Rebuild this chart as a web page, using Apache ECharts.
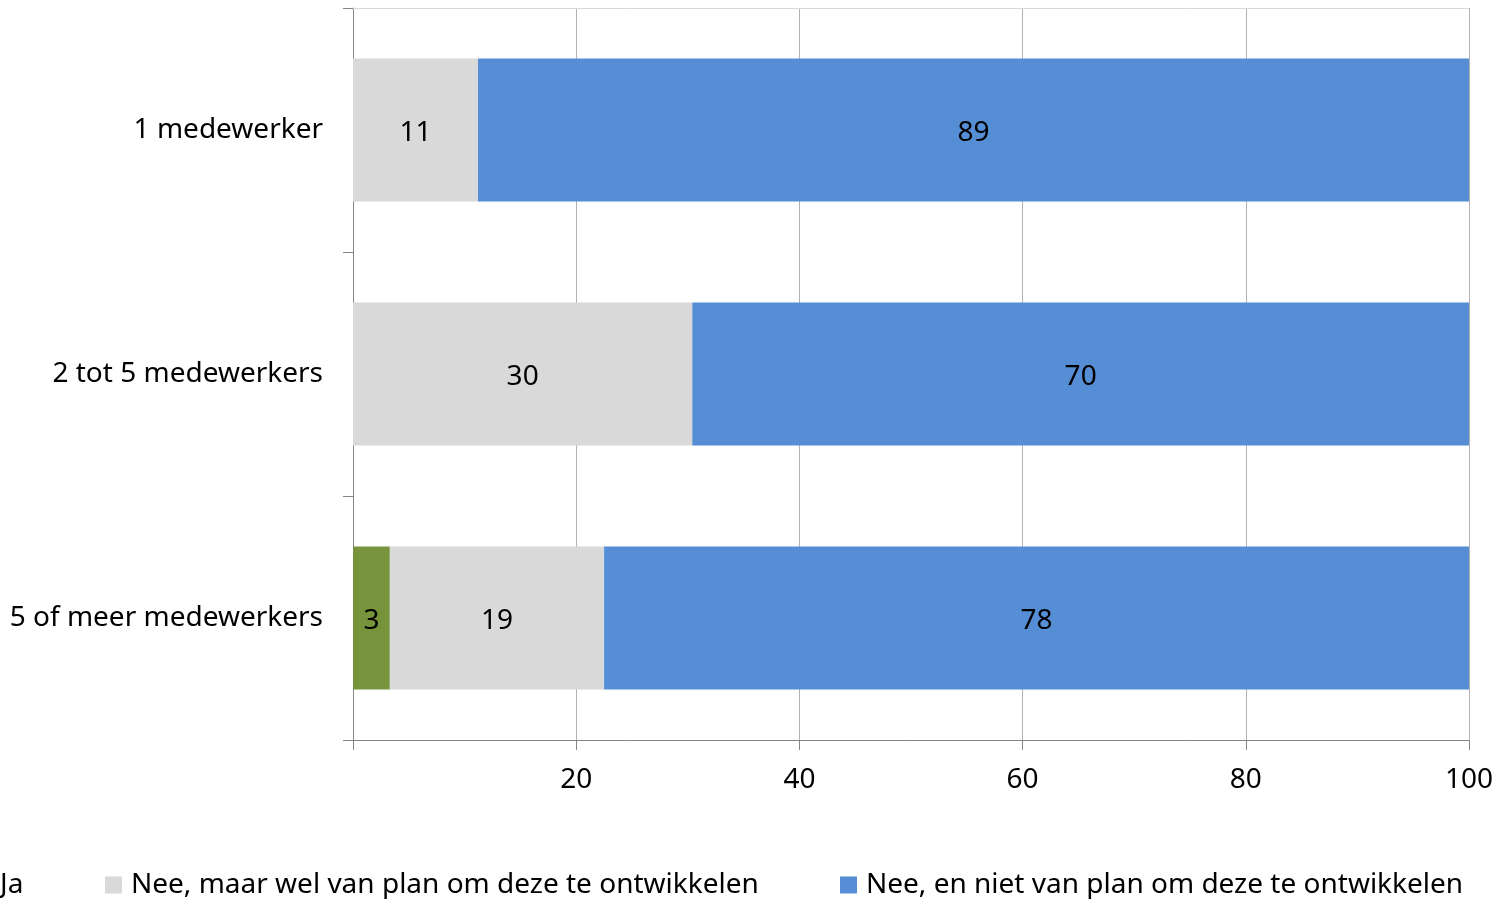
<!DOCTYPE html>
<html>
<head>
<meta charset="utf-8">
<script src="https://cdn.jsdelivr.net/npm/echarts@6/dist/echarts.min.js"></script>
<style>
  html, body { margin: 0; padding: 0; background: #fff; }
  #chart { width: 1501px; height: 899px; }
</style>
</head>
<body>
<div id="chart"></div>
<script>
// categorieen (van boven naar onder)
const categories = ['1 medewerker', '2 tot 5 medewerkers', '5 of meer medewerkers']
const seriesNames = ['Ja', 'Nee, maar wel van plan om deze te ontwikkelen', 'Nee, en niet van plan om deze te ontwikkelen']
const jaValues = [0, 0, 3.3]
const planValues = [11.2, 30.4, 19.2]
const nietValues = [88.8, 69.6, 77.5]
const xTicks = [0, 20, 40, 60, 80, 100]

const colors = ['#77933C', '#D9D9D9', '#558ED5']
const font = 'Noto Sans'
const fontSize = 28

let chart = echarts.init(document.getElementById('chart'))

function makeSeries(name, data, color) {
  return {
    name: name,
    type: 'bar',
    stack: 'total',
    barWidth: 143,
    itemStyle: { color: color },
    label: {
      show: true,
      position: 'inside',
      offset: [0, 3],
      color: '#000',
      fontSize: fontSize,
      fontFamily: font,
      formatter: p => p.value ? Math.round(p.value) : ''
    },
    data: data
  }
}

// elke legenda apart neergezet, zoals in het origineel
const legendLefts = [-26, 105, 840]
const legends = seriesNames.map((name, i) => ({
  data: [name],
  left: legendLefts[i],
  bottom: 0,
  padding: 0,
  itemWidth: 17,
  itemHeight: 17,
  icon: 'rect',
  itemGap: 0,
  textStyle: { fontSize: fontSize, fontFamily: font, color: '#000', padding: [0, 0, 0, 4] }
}))

var option = {
  animation: false,
  color: colors,
  grid: { left: 353, right: 32, top: 8, bottom: 159 },
  legend: legends,
  xAxis: [{
    type: 'value',
    min: xTicks[0],
    max: xTicks[xTicks.length - 1],
    interval: 20,
    axisLine: { show: true, lineStyle: { color: '#868686', width: 1 } },
    axisTick: { show: true, length: 10, lineStyle: { color: '#868686' } },
    axisLabel: {
      margin: 26,
      fontSize: fontSize,
      fontFamily: font,
      color: '#000',
      formatter: v => v === 0 ? '' : v
    },
    splitLine: { show: true, lineStyle: { color: '#B3B3B3', width: 1 } }
  }, {
    // lichte lijn bovenaan het plotgebied
    type: 'value',
    position: 'top',
    min: 0,
    max: 100,
    axisLine: { show: true, lineStyle: { color: '#D9D9D9', width: 1 } },
    axisTick: { show: false },
    axisLabel: { show: false },
    splitLine: { show: false }
  }],
  yAxis: {
    type: 'category',
    inverse: true,
    data: categories,
    axisLine: { show: true, lineStyle: { color: '#868686', width: 1 } },
    axisTick: { show: true, length: 10, lineStyle: { color: '#868686' } },
    axisLabel: { margin: 30, fontSize: fontSize, fontFamily: font, color: '#000', padding: [4, 0, 0, 0] }
  },
  series: [
    makeSeries(seriesNames[0], jaValues, colors[0]),
    makeSeries(seriesNames[1], planValues, colors[1]),
    makeSeries(seriesNames[2], nietValues, colors[2])
  ]
}
chart.setOption(option)
</script>
</body>
</html>
